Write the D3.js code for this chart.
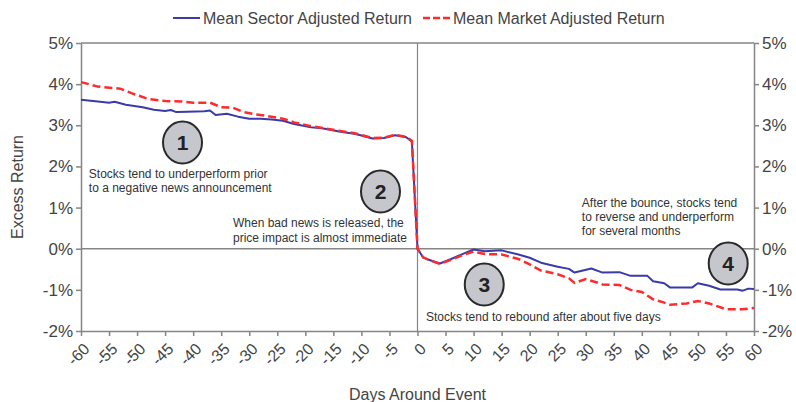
<!DOCTYPE html>
<html><head><meta charset="utf-8">
<script src="https://cdn.jsdelivr.net/npm/d3@7"></script>
<style>
html,body{margin:0;padding:0;background:#fff;}
svg{display:block;font-family:"Liberation Sans",Arial,Helvetica,sans-serif;}
</style></head>
<body><svg id="c" width="796" height="402"></svg>
<script>
// ---- data ----
const sectorDays = [-60,-57,-55,-54,-52,-49,-47,-45,-44,-43,-41,-38,-37,-36,-34,-32,-30,-28,-26,-24,-22,-19,-17,-14,-11,-8,-6,-4,-2,-1,0,1,2,4,6,8,10,12,15,18,20,22,25,27,28,31,33,36,38,41,42,44,45,49,50,52,54,57,58,59,60];
const sectorValues = [3.62,3.58,3.55,3.57,3.50,3.44,3.38,3.35,3.37,3.32,3.33,3.34,3.36,3.25,3.28,3.21,3.16,3.16,3.14,3.11,3.03,2.95,2.93,2.85,2.79,2.68,2.69,2.76,2.71,2.60,0.00,-0.21,-0.27,-0.36,-0.25,-0.13,-0.02,-0.06,-0.04,-0.14,-0.22,-0.34,-0.44,-0.49,-0.58,-0.48,-0.58,-0.57,-0.66,-0.66,-0.79,-0.84,-0.94,-0.94,-0.84,-0.90,-0.99,-0.99,-1.02,-0.97,-0.98];
const marketDays = [-60,-57,-53,-51,-48,-45,-42,-40,-37,-35,-33,-31,-29,-27,-24,-22,-19,-14,-11,-8,-6,-4,-2,-1,0,1,2,4,6,8,10,12,15,18,20,22,25,27,28,30,32,33,36,38,40,42,44,45,48,50,52,55,58,60];
const marketValues = [4.05,3.94,3.89,3.78,3.64,3.59,3.58,3.55,3.55,3.44,3.43,3.32,3.27,3.23,3.16,3.07,2.98,2.87,2.80,2.69,2.70,2.77,2.72,2.62,0.00,-0.21,-0.27,-0.37,-0.27,-0.16,-0.07,-0.13,-0.14,-0.25,-0.38,-0.53,-0.62,-0.72,-0.83,-0.74,-0.82,-0.87,-0.88,-1.00,-1.05,-1.23,-1.31,-1.36,-1.33,-1.27,-1.33,-1.47,-1.47,-1.44];
const seriesNames = ["Mean Sector Adjusted Return","Mean Market Adjusted Return"];
const xTicks = [-60,-55,-50,-45,-40,-35,-30,-25,-20,-15,-10,-5,0,5,10,15,20,25,30,35,40,45,50,55,60];
const yTicks = [-2,-1,0,1,2,3,4,5];
const xTitle = "Days Around Event";
const yTitle = "Excess Return";
const markerLabels = ["1","2","3","4"];
const markerDays = [-41.9,-6.6,11.9,55.4];
const markerValues = [2.58,1.39,-0.87,-0.36];
const notes = [
  {lines:["Stocks tend to underperform prior","to a negative news announcement"], day:-58.6, value:1.72},
  {lines:["When bad news is released, the","price impact is almost immediate"], day:-32.9, value:0.52},
  {lines:["After the bounce, stocks tend","to reverse and underperform","for several months"], day:29.3, value:1.02},
  {lines:["Stocks tend to rebound after about five days"], day:1.5, value:-1.76}
];

// ---- layout ----
const svg = d3.select("#c");
const L = 81, R = 754, T = 43, B = 331;
const x = d3.scaleLinear().domain([-60,60]).range([L,R]);
const y = d3.scaleLinear().domain([-2,5]).range([B,T]);
const axisCol = "#858585", textCol = "#444";

// frame top
svg.append("line").attr("x1",L).attr("x2",R).attr("y1",T).attr("y2",T).attr("stroke",axisCol).attr("stroke-width",1.5);
// zero line
svg.append("line").attr("x1",L).attr("x2",R).attr("y1",y(0)).attr("y2",y(0)).attr("stroke",axisCol).attr("stroke-width",1.5);
// vertical event line
svg.append("line").attr("x1",x(0)).attr("x2",x(0)).attr("y1",T).attr("y2",B).attr("stroke",axisCol).attr("stroke-width",1.2);

function styleAxis(g){
  g.select(".domain").attr("stroke",axisCol).attr("stroke-width",1.5);
  g.selectAll(".tick line").attr("stroke",axisCol).attr("stroke-width",1.5);
  g.selectAll("text").attr("fill",textCol).style("font-family","'Liberation Sans',Arial,sans-serif");
}
const yl = svg.append("g").attr("transform",`translate(${L},0)`)
  .call(d3.axisLeft(y).tickValues(yTicks).tickFormat(d=>d+"%").tickSize(5).tickSizeOuter(0).tickPadding(3));
styleAxis(yl); yl.selectAll("text").style("font-size","17px");
const yr = svg.append("g").attr("transform",`translate(${R},0)`)
  .call(d3.axisRight(y).tickValues(yTicks).tickFormat(d=>d+"%").tickSize(5).tickSizeOuter(0).tickPadding(3));
styleAxis(yr); yr.selectAll("text").style("font-size","17px");
const xa = svg.append("g").attr("transform",`translate(0,${B})`)
  .call(d3.axisBottom(x).tickValues(xTicks).tickFormat(d=>String(d)).tickSize(5).tickSizeOuter(0));
styleAxis(xa);
xa.selectAll("text").style("font-size","16px").attr("text-anchor","end")
  .attr("dy","0.35em").attr("y",0).attr("transform","translate(5,15) rotate(-45)");

// titles
svg.append("text").attr("x",x(0)).attr("y",400).attr("text-anchor","middle")
  .attr("fill",textCol).style("font-size","16px").text(xTitle);
svg.append("text").attr("transform",`translate(23,${(T+B)/2}) rotate(-90)`).attr("text-anchor","middle")
  .attr("fill",textCol).style("font-size","16px").text(yTitle);

// lines
const lineGen = d3.line().x(d=>x(d[0])).y(d=>y(d[1]));
svg.append("path").datum(sectorDays.map((d,i)=>[d,sectorValues[i]]))
  .attr("d",lineGen).attr("fill","none").attr("stroke","#3a3aaa").attr("stroke-width",2).attr("stroke-linejoin","round");
svg.append("path").datum(marketDays.map((d,i)=>[d,marketValues[i]]))
  .attr("d",lineGen).attr("fill","none").attr("stroke","#ff2a2a").attr("stroke-width",2.5).attr("stroke-dasharray","8,4");

// legend
svg.append("line").attr("x1",173).attr("x2",200).attr("y1",18).attr("y2",18).attr("stroke","#3a3aaa").attr("stroke-width",2);
svg.append("text").attr("x",203).attr("y",23.5).attr("fill",textCol).style("font-size","16px").text(seriesNames[0]);
svg.append("line").attr("x1",423).attr("x2",451).attr("y1",18).attr("y2",18).attr("stroke","#ff2a2a").attr("stroke-width",2.5).attr("stroke-dasharray","7,3");
svg.append("text").attr("x",453).attr("y",23.5).attr("fill",textCol).style("font-size","16px").text(seriesNames[1]);

// markers
const mk = svg.selectAll("g.mk").data(markerLabels).enter().append("g")
  .attr("transform",(d,i)=>`translate(${x(markerDays[i])},${y(markerValues[i])})`);
mk.append("ellipse").attr("rx",19.5).attr("ry",21).attr("fill","#c6c7cc").attr("stroke","#2a2a2a").attr("stroke-width",2);
mk.append("text").attr("text-anchor","middle").attr("dy","0.36em").attr("fill","#222")
  .style("font-size","21px").style("font-weight","bold").text(d=>d);

// notes
notes.forEach(n=>{
  const t = svg.append("text").attr("x",x(n.day)).attr("y",y(n.value)).attr("fill","#333").style("font-size","12px");
  n.lines.forEach((l,i)=>t.append("tspan").attr("x",x(n.day)).attr("dy",i?14.3:0).text(l));
});
</script></body></html>
